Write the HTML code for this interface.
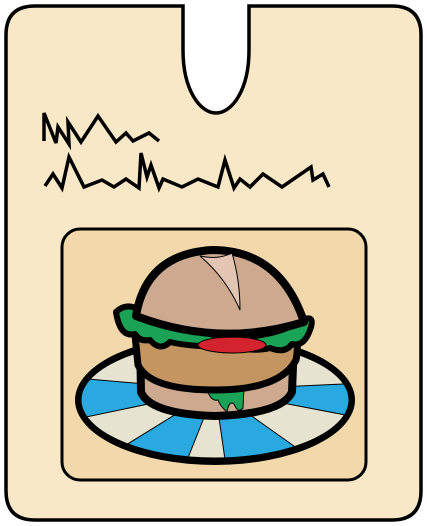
<!DOCTYPE html>
<html><head><meta charset="utf-8"><style>
html,body{margin:0;padding:0;background:#fff;}
svg{display:block;}
</style></head><body>
<svg width="427" height="526" viewBox="0 0 427 526" xmlns="http://www.w3.org/2000/svg">
  <defs>
    <clipPath id="plateClip"><ellipse cx="215" cy="400" rx="136" ry="60"/></clipPath>
  </defs>
  <path d="M35,6 L183,6 L183,50 C183,90 200,113 216,113 C232,113 249,90 249,50 L249,6 L392,6 Q421,6 421,35 L421,491 Q421,520 392,520 L35,520 Q6,520 6,491 L6,35 Q6,6 35,6 Z" fill="#f9e8c8" stroke="#000" stroke-width="3.5"/>
  <polyline fill="none" stroke="#000" stroke-width="3.5" stroke-linejoin="miter" points="44,141 44,113 56,143 58,127 69,144 68,122 81,142 98,116 116,142 126,133 133,141 149,133 159,141"/>
  <polyline fill="none" stroke="#000" stroke-width="3.5" points="45,186 53,174 62,188 69,157 84,187 102,180 114,187 126,179 139,188 141,153 147,177 151,165 159,188 163,179 182,187 198,179 218,187 225,160 234,188 240,179 250,187 263,174 282,187 311,167 313,180 323,174 329,187"/>
  <rect x="62" y="229" width="304" height="251" rx="18" fill="#f3d8ac" stroke="#000" stroke-width="3"/>
  <g>
    <ellipse cx="215" cy="400" rx="140" ry="65" fill="#000"/>
    <ellipse cx="215" cy="400" rx="136" ry="60" fill="#e6e4d0"/>
    <g id="stripes" clip-path="url(#plateClip)"></g>
    <ellipse cx="215" cy="400" rx="136" ry="60" fill="none" stroke="#000" stroke-width="5"/>
  </g>
  <g>
    <path d="M140,340 L141,392 Q150,414 215,416 Q282,414 292,392 L294,340 Z" fill="#cdaa8f" stroke="#000" stroke-width="8" stroke-linejoin="round"/>
    <path d="M206,386 Q224,378 244,386 L243,408 Q238,414 234,404 Q229,400 227,412 Q220,406 218,400 Q210,402 206,386 Z" fill="#1aa356" stroke="#000" stroke-width="1"/>
    <path d="M135,335 Q135,310 150,328 Q215,355 292,330 Q300,340 296,360 Q280,390 215,390 Q150,390 138,365 Z" fill="#c49560" stroke="#000" stroke-width="7" stroke-linejoin="round"/>
    <path d="M116,312 Q126,302 140,310 Q200,335 232,338 Q280,336 302,320 Q316,314 310,330 Q304,347 292,344 Q285,354 270,348 Q255,352 235,347 Q190,347 170,342 Q160,352 150,340 Q140,342 135,334 Q120,338 116,312 Z" fill="#1aa356" stroke="#000" stroke-width="6" stroke-linejoin="round"/>
    <ellipse cx="232" cy="345" rx="34" ry="8" fill="#d2232f" stroke="#000" stroke-width="1"/>
    <path d="M136,316 Q146,254 212,250 Q280,250 304,322 Q220,348 136,316 Z" fill="#cdaa8f" stroke="#000" stroke-width="8" stroke-linejoin="round"/>
    <path d="M200,256 Q218,260 232,253 Q240,280 240,310 Q226,278 200,256 Z" fill="#e2c6b3" stroke="#000" stroke-width="1"/>
  </g>
</svg>
<script>
const blueStart = [55, 101, 160, -12];
const blueEnd = [86, 129, 197, 18];
const g = document.getElementById('stripes');
const cx = 215, cy = 400, rx = 136, ry = 60, k = 1.6;
for (let i = 0; i < blueStart.length; i++) {
  const a0 = blueStart[i] * Math.PI / 180, a1 = blueEnd[i] * Math.PI / 180;
  const p = document.createElementNS('http://www.w3.org/2000/svg', 'path');
  p.setAttribute('d', `M${cx},${cy - 10} L${cx + k * rx * Math.cos(a0)},${cy + k * ry * Math.sin(a0)} L${cx + k * rx * Math.cos(a1)},${cy + k * ry * Math.sin(a1)} Z`);
  p.setAttribute('fill', '#29a9e0');
  p.setAttribute('stroke', '#000');
  p.setAttribute('stroke-width', '1');
  
  
  g.appendChild(p);
}
</script>
</body></html>
